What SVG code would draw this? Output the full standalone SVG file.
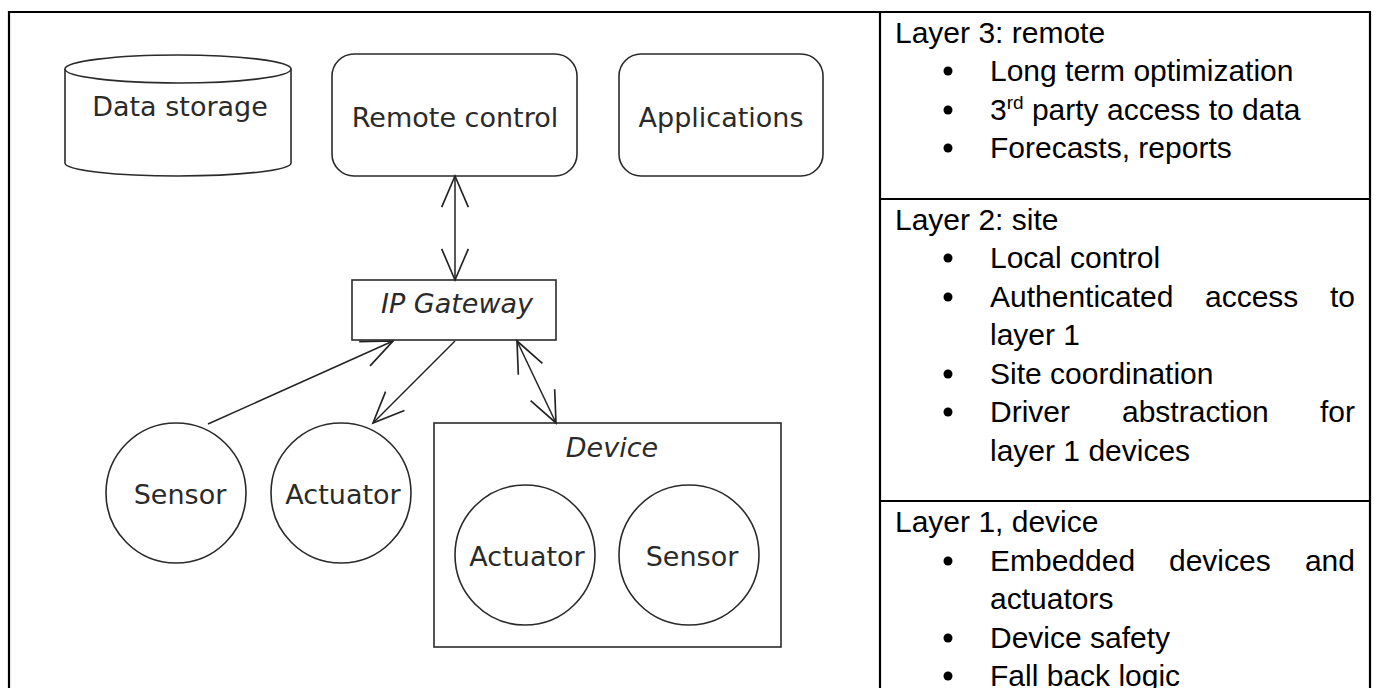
<svg xmlns="http://www.w3.org/2000/svg" width="1376" height="688" viewBox="0 0 1376 688">
  <style>
    .shape { fill: #fff; stroke: #2a2a2a; stroke-width: 1.6; }
    .lbl { font-family: "DejaVu Sans", sans-serif; font-size: 27px; fill: #2a2a2a; text-anchor: middle; }
    .ital { font-style: italic; }
    .conn { fill: none; stroke: #222; stroke-width: 1.5; }
    .grid { fill: none; stroke: #000; stroke-width: 2.2; }
    .txt { font-family: "Liberation Sans", Arial, sans-serif; font-size: 30px; fill: #000; }
    .end { text-anchor: end; }
    .bul { fill: #000; }
  </style>
  <defs>
    <marker id="open" markerUnits="userSpaceOnUse" markerWidth="40" markerHeight="40" viewBox="-32 -16 36 32" refX="0" refY="0" orient="auto-start-reverse">
      <path d="M -28 -12 L 0 0 L -28 12" fill="none" stroke="#222" stroke-width="1.5"/>
    </marker>
  </defs>

  <rect x="0" y="0" width="1376" height="688" fill="#fff"/>

  <!-- table frame -->
  <g id="table">
    <path class="grid" d="M9 700 V12 H1370 V700"/>
    <line class="grid" x1="880" y1="12" x2="880" y2="700"/>
    <line class="grid" x1="880" y1="199" x2="1370" y2="199"/>
    <line class="grid" x1="880" y1="501" x2="1370" y2="501"/>
  </g>

  <!-- diagram nodes -->
  <g id="data-storage">
    <path class="shape" d="M65 69 L65 163 A113 13 0 0 0 291 163 L291 69"/>
    <ellipse class="shape" cx="178" cy="69" rx="113" ry="14"/>
    <text class="lbl" x="180" y="116">Data storage</text>
  </g>
  <g id="remote-control">
    <rect class="shape" x="332" y="54" width="245" height="122" rx="22" ry="22"/>
    <text class="lbl" x="455" y="127">Remote control</text>
  </g>
  <g id="applications">
    <rect class="shape" x="619" y="54" width="204" height="122" rx="22" ry="22"/>
    <text class="lbl" x="721" y="127">Applications</text>
  </g>
  <g id="ip-gateway">
    <rect class="shape" x="352" y="280" width="204" height="60"/>
    <text class="lbl ital" x="457" y="313">IP Gateway</text>
  </g>
  <g id="sensor">
    <circle class="shape" cx="176" cy="493" r="70"/>
    <text class="lbl" x="180" y="504">Sensor</text>
  </g>
  <g id="actuator">
    <circle class="shape" cx="341" cy="493" r="70"/>
    <text class="lbl" x="343" y="504">Actuator</text>
  </g>
  <g id="device">
    <rect class="shape" x="434" y="423" width="347" height="224"/>
    <text class="lbl ital" x="612" y="457">Device</text>
    <g id="device-actuator">
      <circle class="shape" cx="525" cy="555" r="70"/>
      <text class="lbl" x="527" y="566">Actuator</text>
    </g>
    <g id="device-sensor">
      <circle class="shape" cx="689" cy="555" r="70"/>
      <text class="lbl" x="692" y="566">Sensor</text>
    </g>
  </g>

  <!-- connectors -->
  <g id="connectors">
    <line class="conn" x1="455" y1="176" x2="455" y2="280" marker-start="url(#open)" marker-end="url(#open)"/>
    <line class="conn" x1="208" y1="424" x2="393" y2="341" marker-end="url(#open)"/>
    <line class="conn" x1="455" y1="341" x2="373" y2="423" marker-end="url(#open)"/>
    <line class="conn" x1="517" y1="341" x2="556" y2="423" marker-start="url(#open)" marker-end="url(#open)"/>
  </g>

  <!-- layer descriptions -->
  <g id="layer3">
    <text class="txt" x="895" y="43">Layer 3: remote</text>
    <circle class="bul" cx="948" cy="71" r="4.5"/>
    <text class="txt" x="990" y="81">Long term optimization</text>
    <circle class="bul" cx="948" cy="110" r="4.5"/>
    <text class="txt" x="990" y="120">3<tspan font-size="19" dy="-11">rd</tspan><tspan dy="11"> party access to data</tspan></text>
    <circle class="bul" cx="948" cy="148" r="4.5"/>
    <text class="txt" x="990" y="158">Forecasts, reports</text>
  </g>
  <g id="layer2">
    <text class="txt" x="895" y="230">Layer 2: site</text>
    <circle class="bul" cx="948" cy="258" r="4.5"/>
    <text class="txt" x="990" y="268">Local control</text>
    <circle class="bul" cx="948" cy="297" r="4.5"/>
    <text class="txt" x="990" y="307">Authenticated</text>
    <text class="txt" x="1205" y="307">access</text>
    <text class="txt end" x="1355" y="307">to</text>
    <text class="txt" x="990" y="345">layer 1</text>
    <circle class="bul" cx="948" cy="374" r="4.5"/>
    <text class="txt" x="990" y="384">Site coordination</text>
    <circle class="bul" cx="948" cy="412" r="4.5"/>
    <text class="txt" x="990" y="422">Driver</text>
    <text class="txt" x="1122" y="422">abstraction</text>
    <text class="txt end" x="1355" y="422">for</text>
    <text class="txt" x="990" y="461">layer 1 devices</text>
  </g>
  <g id="layer1">
    <text class="txt" x="895" y="532">Layer 1, device</text>
    <circle class="bul" cx="948" cy="561" r="4.5"/>
    <text class="txt" x="990" y="571">Embedded</text>
    <text class="txt" x="1169" y="571">devices</text>
    <text class="txt end" x="1355" y="571">and</text>
    <text class="txt" x="990" y="609">actuators</text>
    <circle class="bul" cx="948" cy="638" r="4.5"/>
    <text class="txt" x="990" y="648">Device safety</text>
    <circle class="bul" cx="948" cy="676" r="4.5"/>
    <text class="txt" x="990" y="686">Fall back logic</text>
  </g>
</svg>
